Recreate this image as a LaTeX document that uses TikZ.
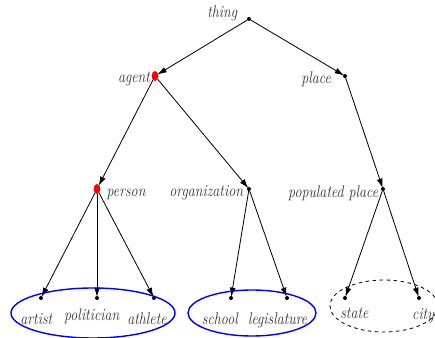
\documentclass[tikz,border=0pt]{standalone}
\usepackage{amsmath}
\usepackage{tikz}
\usetikzlibrary{arrows.meta,shapes.geometric}

\begin{document}
\begin{tikzpicture}[
		x=0.03cm, y=-0.03cm,
		every node/.style={circle, fill, inner sep=0pt, minimum size=1.2mm},
		every label/.append style={rectangle, fill=none, inner sep=1pt, yscale=1.2, font=\large\itshape, text=black!80},
		hub/.style={ellipse, fill=red, minimum width=2mm, minimum height=3mm},
		link/.style={-{Latex[length=8pt, width=5pt]}, line width=0.7pt, shorten >=-1pt}
	]
  \useasboundingbox (0,0) rectangle (435,338);
  % concepts
  \node (thing) [label={[label distance=7pt, yshift=4pt]left:{thing}}] at (249, 19) {};
  \node (agent) [hub, label={[yshift=-2pt]left:{agent}}] at (155, 76) {};
  \node (place) [label={[label distance=9pt, yshift=-2pt]left:{place}}] at (345, 76) {};
  \node (person) [hub, label={[label distance=4pt, yshift=-3.5pt]right:{person}}] at (97, 189) {};
  \node (org) [label={[label distance=2pt, yshift=-2.5pt]left:{organization}}] at (249, 189) {};
  \node (popplace) [label={[label distance=1pt, yshift=-3pt]left:{populated place}}] at (383, 189) {};
  % instances
  \node (artist) [label={[xshift=-4pt, yshift=-8.5pt]below:{artist}}] at (41, 298) {};
  \node (politician) [label={[xshift=-4.5pt, yshift=-5pt]below:{politician}}] at (97, 298) {};
  \node (athlete) [label={[xshift=-6pt, yshift=-7.5pt]below:{athlete}}] at (154, 298) {};
  \node (school) [label={[xshift=-9.5pt, yshift=-7.5pt]below:{school}}] at (231, 298) {};
  \node (legis) [label={[xshift=-8pt, yshift=-7.5pt]below:{legislature}}] at (287, 298) {};
  \node (state) [label={[xshift=8pt, yshift=-4.5pt]below:{state}}] at (345, 298) {};
  \node (city) [label={[xshift=3.5pt, yshift=-5pt]below:{city}}] at (419, 298) {};
  \draw [link] (thing) -- (agent);
  \draw [link] (thing) -- (place);
  \draw [link] (agent) -- (person);
  \draw [link] (agent) -- (org);
  \draw [link] (place) -- (popplace);
  \draw [link] (person) -- (artist);
  \draw [link] (person) -- (politician);
  \draw [link] (person) -- (athlete);
  \draw [link] (org) -- (school);
  \draw [link] (org) -- (legis);
  \draw [link] (popplace) -- (state);
  \draw [link] (popplace) -- (city);
  % groups
  \draw [blue, line width=1.2pt] (93, 313) ellipse [x radius=82, y radius=25];
  \draw [blue, line width=1.2pt] (252, 313) ellipse [x radius=64, y radius=23];
  \draw [dashed, line width=0.7pt] (384, 306) ellipse [x radius=54, y radius=26];
\end{tikzpicture}
\end{document}
